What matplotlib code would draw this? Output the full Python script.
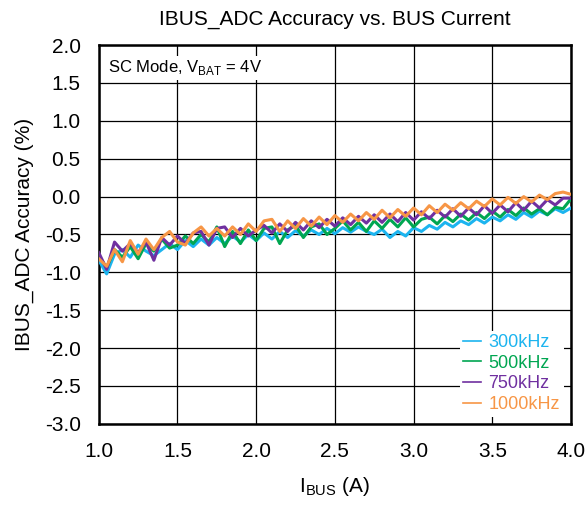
import matplotlib
matplotlib.use('Agg')
import matplotlib.pyplot as plt
import numpy as np

plt.rcParams['font.family'] = ['Liberation Sans', 'DejaVu Sans']
plt.rcParams['mathtext.fontset'] = 'custom'
plt.rcParams['mathtext.rm'] = 'Liberation Sans'

# bus current (A), step 0.05
i_bus = [1.00 + 0.05 * k for k in range(61)]

acc_300k = [-0.84, -1.02, -0.76, -0.70, -0.80, -0.64, -0.72, -0.78, -0.70, -0.62,
            -0.70, -0.58, -0.66, -0.56, -0.64, -0.54, -0.62, -0.52, -0.60, -0.50,
            -0.58, -0.48, -0.56, -0.46, -0.54, -0.45, -0.52, -0.44, -0.50, -0.42,
            -0.49, -0.41, -0.47, -0.40, -0.46, -0.50, -0.43, -0.54, -0.46, -0.52,
            -0.41, -0.46, -0.38, -0.43, -0.34, -0.40, -0.32, -0.37, -0.29, -0.35,
            -0.27, -0.32, -0.24, -0.30, -0.21, -0.27, -0.19, -0.24, -0.16, -0.21,
            -0.15]

acc_500k = [-0.78, -0.94, -0.70, -0.80, -0.66, -0.82, -0.62, -0.72, -0.56, -0.68,
            -0.64, -0.52, -0.62, -0.50, -0.60, -0.40, -0.66, -0.46, -0.62, -0.44,
            -0.58, -0.42, -0.40, -0.62, -0.44, -0.38, -0.54, -0.40, -0.36, -0.50,
            -0.42, -0.32, -0.44, -0.34, -0.46, -0.32, -0.42, -0.30, -0.40, -0.28,
            -0.40, -0.30, -0.27, -0.36, -0.25, -0.33, -0.23, -0.31, -0.21, -0.29,
            -0.19, -0.27, -0.17, -0.25, -0.15, -0.23, -0.16, -0.24, -0.14, -0.16,
            -0.03]

acc_750k = [-0.74, -0.96, -0.60, -0.72, -0.62, -0.74, -0.60, -0.84, -0.54, -0.64,
            -0.52, -0.62, -0.48, -0.46, -0.64, -0.42, -0.40, -0.54, -0.42, -0.52,
            -0.44, -0.38, -0.48, -0.36, -0.46, -0.34, -0.44, -0.32, -0.41, -0.30,
            -0.39, -0.28, -0.37, -0.26, -0.35, -0.24, -0.34, -0.23, -0.33, -0.21,
            -0.31, -0.20, -0.29, -0.18, -0.27, -0.16, -0.26, -0.15, -0.24, -0.12,
            -0.22, -0.11, -0.20, -0.08, -0.18, -0.06, -0.15, -0.04, -0.11, -0.02,
            -0.02]

acc_1000k = [-0.82, -0.92, -0.70, -0.86, -0.58, -0.76, -0.56, -0.70, -0.54, -0.46,
             -0.60, -0.64, -0.48, -0.40, -0.52, -0.42, -0.52, -0.40, -0.50, -0.36,
             -0.46, -0.32, -0.30, -0.46, -0.32, -0.42, -0.29, -0.39, -0.27, -0.37,
             -0.25, -0.34, -0.23, -0.32, -0.21, -0.30, -0.18, -0.28, -0.17, -0.26,
             -0.15, -0.24, -0.12, -0.21, -0.10, -0.18, -0.08, -0.16, -0.06, -0.13,
             -0.03, -0.11, -0.01, -0.09, 0.00, -0.07, 0.02, -0.04, 0.04, 0.06,
             0.03]

labels = ['300kHz', '500kHz', '750kHz', '1000kHz']
colors = ['#1cb4ef', '#00a651', '#7030a0', '#f79646']

fig = plt.figure(figsize=(5.88, 5.07), dpi=100)
ax = fig.add_axes([0.168, 0.164, 0.803, 0.747])

for ys, lab, c in zip([acc_300k, acc_500k, acc_750k, acc_1000k], labels, colors):
    ax.plot(i_bus, ys, color=c, lw=2.2, label=lab, zorder=3)

ax.set_xlim(1.0, 4.0)
ax.set_ylim(-3.0, 2.0)
ax.set_xticks(np.arange(1.0, 4.01, 0.5))
ax.set_yticks(np.arange(-3.0, 2.01, 0.5))
ax.xaxis.set_major_formatter(matplotlib.ticker.FormatStrFormatter('%.1f'))
ax.yaxis.set_major_formatter(matplotlib.ticker.FormatStrFormatter('%.1f'))
ax.tick_params(length=0, labelsize=15, pad=13)
ax.grid(True, color='black', lw=0.9, zorder=1)
for s in ax.spines.values():
    s.set_linewidth(1.8)

ax.set_title('IBUS_ADC Accuracy vs. BUS Current', fontsize=15, pad=15)
ax.set_xlabel(r'I$_{\mathregular{BUS}}$ (A)', fontsize=15, labelpad=10)
ax.set_ylabel('IBUS_ADC Accuracy (%)', fontsize=15, labelpad=8)

ax.text(0.02, 0.965, r'SC Mode, V$_{\mathregular{BAT}}$ = 4V', transform=ax.transAxes,
        fontsize=12, va='top', ha='left', zorder=4,
        bbox=dict(facecolor='white', edgecolor='none', pad=2))

leg = ax.legend(loc='lower right', frameon=True, fontsize=13, handlelength=1.0,
                handletextpad=0.4, labelspacing=0.2, borderaxespad=0.4,
                borderpad=0.2, labelcolor='linecolor')
leg.get_frame().set_edgecolor('none')
leg.get_frame().set_facecolor('white')
leg.get_frame().set_alpha(1)
for h in leg.get_lines():
    h.set_linewidth(1.2)

fig.savefig('out.png', dpi=100)
